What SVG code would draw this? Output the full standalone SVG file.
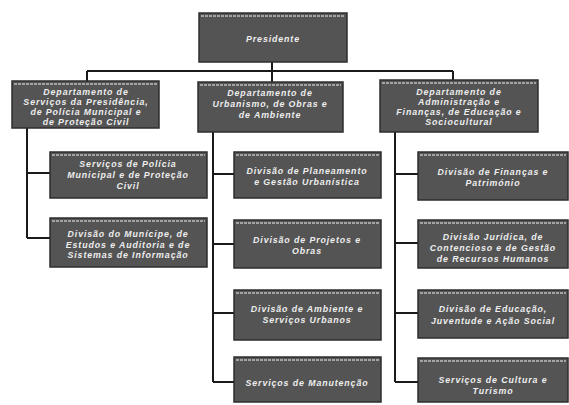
<svg xmlns="http://www.w3.org/2000/svg" width="569" height="405" viewBox="0 0 569 405">
<style>
.box{fill:#545454;stroke:#2e2e2e;stroke-width:1.5}
.hl{stroke:#bdbdbd;stroke-width:1.5;stroke-dasharray:3 1}
.t{font-family:"Liberation Sans",Arial,sans-serif;font-style:italic;font-weight:bold;font-size:8.8px;letter-spacing:0.9px;fill:#eeeeee;text-anchor:middle}
.c{fill:none;stroke:#1a1a1a;stroke-width:2}
</style>
<rect width="569" height="405" fill="#ffffff"/>
<g id="connectors">
<path class="c" d="M272 62V71M87 71H453M87 71V81M272 71V82M453 71V80"/>
<path class="c" d="M27 128V238M27 173H50M27 238H50"/>
<path class="c" d="M213 132V382M213 174H234M213 244H234M213 313H234M213 382H234"/>
<path class="c" d="M395 132V382M395 174H418M395 243H418M395 313H418M395 382H418"/>
</g>
<g id="presidente">
<rect class="box" x="199" y="13" width="148" height="49"/>
<line class="hl" x1="201" y1="16" x2="345" y2="16"/>
<text class="t" x="273" y="42">Presidente</text>
</g>
<g id="dep-presidencia">
<rect class="box" x="12" y="81" width="147" height="47"/>
<line class="hl" x1="14" y1="84" x2="157" y2="84"/>
<text class="t" x="86" y="95">Departamento de</text>
<text class="t" x="86" y="105">Serviços da Presidência,</text>
<text class="t" x="86" y="115">de Polícia Municipal e</text>
<text class="t" x="86" y="125">de Proteção Civil</text>
</g>
<g id="dep-urbanismo">
<rect class="box" x="198" y="82" width="145" height="50"/>
<line class="hl" x1="200" y1="85" x2="341" y2="85"/>
<text class="t" x="270" y="96">Departamento de</text>
<text class="t" x="270" y="107">Urbanismo, de Obras e</text>
<text class="t" x="270" y="118">de Ambiente</text>
</g>
<g id="dep-administracao">
<rect class="box" x="380" y="80" width="158" height="52"/>
<line class="hl" x1="382" y1="83" x2="536" y2="83"/>
<text class="t" x="459" y="95">Departamento de</text>
<text class="t" x="459" y="105">Administração e</text>
<text class="t" x="459" y="115">Finanças, de Educação e</text>
<text class="t" x="459" y="125">Sociocultural</text>
</g>
<g id="srv-policia">
<rect class="box" x="50" y="152" width="157" height="46"/>
<line class="hl" x1="52" y1="155" x2="205" y2="155"/>
<text class="t" x="128" y="167">Serviços de Polícia</text>
<text class="t" x="128" y="178">Municipal e de Proteção</text>
<text class="t" x="128" y="189">Civil</text>
</g>
<g id="div-municipe">
<rect class="box" x="50" y="218" width="157" height="49"/>
<line class="hl" x1="52" y1="221" x2="205" y2="221"/>
<text class="t" x="128" y="237">Divisão do Munícipe, de</text>
<text class="t" x="128" y="248">Estudos e Auditoria e de</text>
<text class="t" x="128" y="258">Sistemas de Informação</text>
</g>
<g id="div-planeamento">
<rect class="box" x="234" y="152" width="147" height="46"/>
<line class="hl" x1="236" y1="155" x2="379" y2="155"/>
<text class="t" x="307" y="174">Divisão de Planeamento</text>
<text class="t" x="307" y="185">e Gestão Urbanística</text>
</g>
<g id="div-projetos">
<rect class="box" x="234" y="220" width="147" height="48"/>
<line class="hl" x1="236" y1="223" x2="379" y2="223"/>
<text class="t" x="307" y="243">Divisão de Projetos e</text>
<text class="t" x="307" y="254">Obras</text>
</g>
<g id="div-ambiente">
<rect class="box" x="234" y="290" width="147" height="50"/>
<line class="hl" x1="236" y1="293" x2="379" y2="293"/>
<text class="t" x="307" y="312">Divisão de Ambiente e</text>
<text class="t" x="307" y="323">Serviços Urbanos</text>
</g>
<g id="srv-manutencao">
<rect class="box" x="234" y="357" width="147" height="45"/>
<line class="hl" x1="236" y1="360" x2="379" y2="360"/>
<text class="t" x="307" y="386">Serviços de Manutenção</text>
</g>
<g id="div-financas">
<rect class="box" x="418" y="152" width="150" height="48"/>
<line class="hl" x1="420" y1="155" x2="566" y2="155"/>
<text class="t" x="493" y="175">Divisão de Finanças e</text>
<text class="t" x="493" y="186">Património</text>
</g>
<g id="div-juridica">
<rect class="box" x="418" y="220" width="150" height="48"/>
<line class="hl" x1="420" y1="223" x2="566" y2="223"/>
<text class="t" x="493" y="240">Divisão Jurídica, de</text>
<text class="t" x="493" y="251">Contencioso e de Gestão</text>
<text class="t" x="493" y="262">de Recursos Humanos</text>
</g>
<g id="div-educacao">
<rect class="box" x="418" y="290" width="150" height="48"/>
<line class="hl" x1="420" y1="293" x2="566" y2="293"/>
<text class="t" x="493" y="312">Divisão de Educação,</text>
<text class="t" x="493" y="324">Juventude e Ação Social</text>
</g>
<g id="srv-cultura">
<rect class="box" x="418" y="358" width="150" height="44"/>
<line class="hl" x1="420" y1="361" x2="566" y2="361"/>
<text class="t" x="493" y="383">Serviços de Cultura e</text>
<text class="t" x="493" y="394">Turismo</text>
</g>
</svg>
